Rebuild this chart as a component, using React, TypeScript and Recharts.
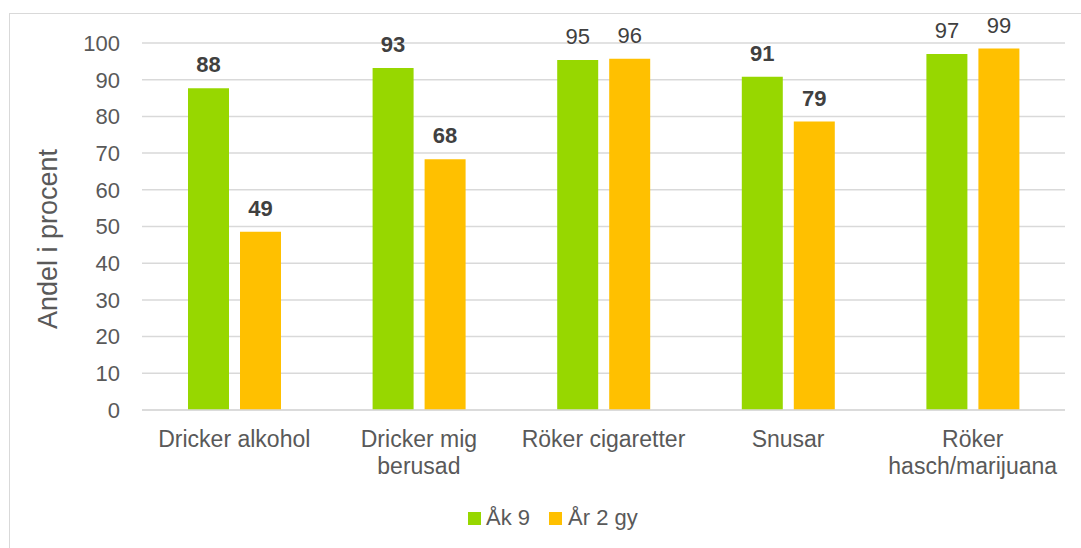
import { Bar, BarChart, CartesianGrid, LabelList, Legend, XAxis, YAxis } from "recharts";

const categories = ["Dricker alkohol", "Dricker mig berusad", "Röker cigaretter", "Snusar", "Röker hasch/marijuana"];
// how the category names wrap under the axis
const tickLines = [["Dricker alkohol"], ["Dricker mig", "berusad"], ["Röker cigaretter"], ["Snusar"], ["Röker", "hasch/marijuana"]];
const ak9 = [87.7, 93.2, 95.4, 90.8, 97.0];
const ar2gy = [48.6, 68.3, 95.7, 78.6, 98.5];
// labels printed in bold in the original
const boldLabel = [true, true, false, true, false];
const yTicks = [0, 10, 20, 30, 40, 50, 60, 70, 80, 90, 100];

const data = categories.map((name, i) => ({ name, ak9: ak9[i], ar2gy: ar2gy[i], bold: boldLabel[i] }));

const GREEN = "#97D700";
const ORANGE = "#FFC000";
const FONT = "'Liberation Sans', Arial, sans-serif";

const XTick = ({ x, y, payload, index }: any) => {
  const lines = tickLines[index] ?? [payload.value];
  return (
    <text x={x} y={y + 37} textAnchor="middle" fill="#595959" fontSize={23} fontFamily={FONT}>
      {lines.map((l: string, i: number) => (
        <tspan key={i} x={x} dy={i === 0 ? 0 : 27}>
          {l}
        </tspan>
      ))}
    </text>
  );
};

const valueLabel = (props: any) => {
  const { x, y, width, value, index } = props;
  return (
    <text
      x={x + width / 2}
      y={y - 16}
      textAnchor="middle"
      fill="#404040"
      fontSize={22}
      fontWeight={data[index].bold ? "bold" : "normal"}
      fontFamily={FONT}
    >
      {Math.round(value)}
    </text>
  );
};

const LegendBox = () => (
  <div style={{ display: "flex", alignItems: "center", marginLeft: 458, fontFamily: FONT, fontSize: 22, color: "#595959", height: 30 }}>
    <span style={{ width: 13, height: 13, background: GREEN, marginRight: 5 }} />
    <span style={{ marginRight: 19 }}>Åk 9</span>
    <span style={{ width: 13, height: 13, background: ORANGE, marginRight: 6 }} />
    <span>År 2 gy</span>
  </div>
);

export default function App() {
  return (
    <div style={{ position: "fixed", left: 0, top: 0, width: 1081, height: 548, overflow: "hidden", background: "#fff" }}>
      <div style={{ position: "absolute", left: 9, top: 13, width: 1080, height: 545, border: "1px solid #d9d9d9" }}>
        <BarChart
          width={1071}
          height={534}
          data={data}
          barSize={41}
          barGap={11}
          margin={{ top: 29, right: 16, left: 72, bottom: 38 }}
        >
          <CartesianGrid vertical={false} stroke="#d9d9d9" strokeWidth={1.5} />
          <XAxis
            dataKey="name"
            axisLine={{ stroke: "#d9d9d9", strokeWidth: 1.5 }}
            tickLine={false}
            tickSize={0}
            tickMargin={0}
            height={70}
            interval={0}
            tick={<XTick />}
          />
          <YAxis
            width={60}
            domain={[0, 100]}
            ticks={yTicks}
            axisLine={false}
            tickLine={false}
            tickSize={6}
            tickMargin={16}
            tick={{ fill: "#595959", fontSize: 22, fontFamily: FONT }}
            label={{
              content: () => (
                <text
                  x={38}
                  y={225}
                  transform="rotate(-90, 38, 225)"
                  textAnchor="middle"
                  dominantBaseline="central"
                  fill="#595959"
                  fontSize={27}
                  fontFamily={FONT}
                >
                  Andel i procent
                </text>
              ),
            }}
          />
          <Legend
            verticalAlign="bottom"
            content={<LegendBox />}
            wrapperStyle={{ left: 0, width: 1071, bottom: 15, height: 30 }}
          />
          <Bar dataKey="ak9" name="Åk 9" fill={GREEN} isAnimationActive={false}>
            <LabelList dataKey="ak9" content={valueLabel} />
          </Bar>
          <Bar dataKey="ar2gy" name="År 2 gy" fill={ORANGE} isAnimationActive={false}>
            <LabelList dataKey="ar2gy" content={valueLabel} />
          </Bar>
        </BarChart>
      </div>
    </div>
  );
}
